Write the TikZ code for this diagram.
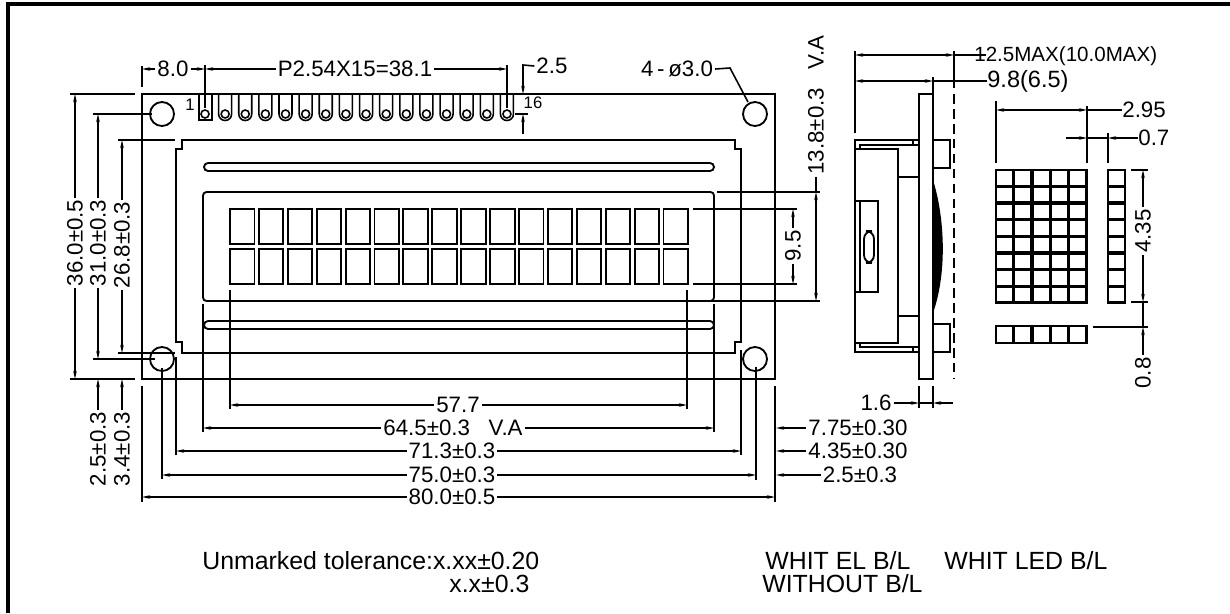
\documentclass[tikz,border=0pt]{standalone}
\usepackage{fontspec}
\setmainfont{Liberation Sans}
\usepackage{tikz}
\usetikzlibrary{
  arrows.meta,
  calc,
  positioning
}
\tikzset{
  part/.style={line width=1.05pt},
  partthin/.style={line width=0.9pt},
  cell/.style={line width=1.3pt},
  ext/.style={line width=0.9pt},
  extbold/.style={line width=1.3pt},
  arr/.style={-{Stealth[length=1.6mm,width=0.7mm]}, line width=0.9pt},
  arrboth/.style={{Stealth[length=1.6mm,width=0.7mm]}-{Stealth[length=1.6mm,width=0.7mm]}, line width=0.9pt},
  lbl/.style={inner sep=1pt, font=\fontsize{12.7}{14}\selectfont},
  lblrot/.style={lbl, rotate=90},
  pinNote/.style={inner sep=0pt, font=\fontsize{9.5}{10}\selectfont},
  noteText/.style={inner sep=0pt, anchor=base west, font=\fontsize{14.15}{16}\selectfont},
}

\begin{document}
\begin{tikzpicture}[x=0.02cm,y=-0.02cm]
\useasboundingbox (0,0) rectangle (1230,613);

% page frame, only top and left
\draw[line width=2pt] (8,613) -- (8,4) -- (1230,4);

% ---- front view ----
% board
\draw[part] (142,94) rectangle (775,379);
% mounting holes
\foreach \X/\Y in {162/114, 755/114, 162/359, 755/359}{
  \draw[part] (\X,\Y) circle (12);
}
% bezel with notches
\draw[part] (182,140) -- (735,140) -- (735,149) -- (741,149) -- (741,342) -- (735,342)
  -- (735,353) -- (182,353) -- (182,342) -- (176,342) -- (176,149) -- (182,149) -- cycle;
% slots
\foreach \Y in {163, 321}{
  \draw[part] (208,\Y) -- (710,\Y) arc[start angle=-90,end angle=90,radius=4]
    -- (208,\Y+8) arc[start angle=90,end angle=270,radius=4];
}
% viewing area
\draw[part, rounded corners=2pt] (203,192) rectangle (714,301);
% characters
\foreach \c in {0,...,15}{
  \foreach \Y in {209, 249}{
    \draw[part] ({230+28.9*\c},\Y) rectangle ({230+28.9*\c+24.5},\Y+35);
  }
}
% pins
\draw[partthin] (199,94) -- (199,120) -- (212,120) -- (212,94);
\draw[partthin] (205,114) circle (4);
\foreach \c in {1,...,15}{
  \draw[partthin] ({205+20.13*\c-6.5},94) -- ({205+20.13*\c-6.5},114)
    arc[start angle=180,end angle=0,radius=6.5] -- ({205+20.13*\c+6.5},94);
  \draw[partthin] ({205+20.13*\c},114) circle (4);
}
\node[pinNote] (pinFirst) at (190,105) {1};
\node[pinNote] (pinLast) at (533,103) {16};

% top dimensions
\node[lbl] (lblEight) at (173,69) {8.0};
\node[lbl] (lblPitch) at (355,69) {P2.54X15=38.1};
\node[lbl] (lblOffs) at (552,66) {2.5};
\node[lbl] (lblHoles) at (677,69) {4\,-\,ø3.0};
\draw[ext] (142,66) -- (142,87);
\draw[ext] (205,65) -- (205,108);
\draw[ext] (507,65) -- (507,108);
\draw[arr] (lblEight.west) -- (142,69);
\draw[arr] (lblEight.east) -- (205,69);
\draw[arr] (lblPitch.west) -- (205,69);
\draw[arr] (lblPitch.east) -- (507,69);
\draw[arr] (lblOffs.west) -- (523,65) -- (523,94);
\draw[ext] (515,114) -- (528,114);
\draw[arr] (523,134) -- (523,114);
\draw[ext] (lblHoles.east) -- (730,68) -- (748,102);

% left dimensions
\node[lblrot] (lblHa) at (75,243) {36.0±0.5};
\node[lblrot] (lblHb) at (98,243) {31.0±0.3};
\node[lblrot] (lblHc) at (122,245) {26.8±0.3};
\node[lblrot] (lblLa) at (98,449) {2.5±0.3};
\node[lblrot] (lblLb) at (122,449) {3.4±0.3};
\draw[ext] (70,94) -- (135,94);
\draw[extbold] (70,379) -- (135,379);
\draw[extbold] (93,114) -- (152,114);
\draw[extbold] (93,359) -- (155,359);
\draw[ext] (118,140) -- (175,140);
\draw[ext] (118,353) -- (175,353);
\draw[arr] (lblHa.east) -- (75,94);
\draw[arr] (lblHa.west) -- (75,379);
\draw[arr] (lblHb.east) -- (98,114);
\draw[arr] (lblHb.west) -- (98,359);
\draw[arr] (lblHc.east) -- (122,140);
\draw[arr] (lblHc.west) -- (122,353);
\draw[arr] (lblLa.east) -- (98,379);
\draw[arr] (lblLb.east) -- (122,379);

% bottom dimensions
\node[lbl] (lblWa) at (458,405) {57.7};
\node[lbl] (lblWb) at (453,428) {64.5±0.3\ \ \ V.A};
\node[lbl] (lblWc) at (452,451) {71.3±0.3};
\node[lbl] (lblWd) at (452,475) {75.0±0.3};
\node[lbl] (lblWe) at (452,497) {80.0±0.5};
\foreach \X/\Ya/\Yb in {230/290/409, 687/290/409, 203/304/432, 714/304/432, 176/357/455,
    741/350/455, 162/368/479, 756/367/480, 142/386/502, 775/480/502}{
  \draw[ext] (\X,\Ya) -- (\X,\Yb);
}
\draw[extbold] (775,386) -- (775,480);
\draw[arr] (lblWa.west) -- (230,405);
\draw[arr] (lblWa.east) -- (687,405);
\draw[arr] (lblWb.west) -- (203,428);
\draw[arr] (lblWb.east) -- (714,428);
\draw[arr] (lblWc.west) -- (176,451);
\draw[arr] (lblWc.east) -- (741,451);
\draw[arr] (lblWd.west) -- (162,475);
\draw[arr] (lblWd.east) -- (756,475);
\draw[arr] (lblWe.west) -- (142,497);
\draw[arr] (lblWe.east) -- (775,497);

% right end dimensions
\node[lbl] (lblRa) at (858,428) {7.75±0.30};
\node[lbl] (lblRb) at (858,451) {4.35±0.30};
\node[lbl] (lblRc) at (860,475) {2.5±0.3};
\draw[arr] (lblRa.west) -- (776,428);
\draw[arr] (lblRb.west) -- (776,451);
\draw[arr] (lblRc.west) -- (776,475);

% view area height
\node[lblrot] (lblVa) at (816,105) {13.8±0.3\ \ \ V.A};
\node[lblrot] (lblVb) at (793,246) {9.5};
\draw[ext] (717,192) -- (820,192);
\draw[ext] (693,301) -- (820,301);
\draw[ext] (693,209) -- (797,209);
\draw[ext] (693,284) -- (797,284);
\draw[ext] (lblVa.west) -- (816,192);
\draw[arrboth] (816,192) -- (816,301);
\draw[arr] (lblVb.east) -- (793,209);
\draw[arr] (lblVb.west) -- (793,284);

% ---- side view ----
\draw[part] (919,94) rectangle (933,379);
\draw[part] (919,140) -- (855,140) -- (855,352) -- (919,352);
\draw[part] (855,149) rectangle (898,343);
\draw[partthin] (860,149) -- (860,145) -- (919,145);
\draw[partthin] (860,343) -- (860,347) -- (919,347);
\draw[partthin] (913,140) -- (913,145);
\draw[partthin] (913,347) -- (913,352);
\draw[part] (898,177) -- (919,177);
\draw[part] (898,316) -- (919,316);
\draw[part] (855,201) -- (878,201) -- (878,292) -- (855,292);
\draw[part] (860,201) -- (860,292);
\draw[part, rounded corners=4.5pt] (864,231) rectangle (874,263);
% leds at the back
\draw[part] (933,140) -- (950,140) -- (950,168) -- (933,168);
\draw[part] (933,324) -- (950,324) -- (950,352) -- (933,352);
\fill (933,180) .. controls (944,215) and (948,270) .. (933,313) -- cycle;
\draw[part, dash pattern=on 5.5pt off 3pt] (954,94) -- (954,379);

% side dimensions
\node[lbl, anchor=west, inner sep=0pt, font=\fontsize{11.7}{14}\selectfont] (lblMax) at (974,56) {12.5MAX(10.0MAX)};
\node[lbl, anchor=west, inner sep=0pt, font=\fontsize{13.4}{14}\selectfont] (lblThick) at (987,81) {9.8(6.5)};
\node[lbl] (lblBoard) at (876,403) {1.6};
\draw[ext] (855,51) -- (855,133);
\draw[ext] (954,51) -- (954,88);
\draw[ext] (933,77) -- (933,94);
\draw[arrboth] (855,55) -- (954,55);
\draw[ext] (954,55) -- (986,55);
\draw[arrboth] (855,81) -- (933,81);
\draw[ext] (933,81) -- (lblThick.west);
\draw[ext] (919,386) -- (919,408);
\draw[ext] (933,386) -- (933,408);
\draw[arr] (lblBoard.east) -- (919,403);
\draw[ext] (919,403) -- (933,403);
\draw[arr] (953,403) -- (933,403);

% ---- dot matrix ----
\foreach \c in {0,...,4}{
  \foreach \r in {0,...,7}{
    \draw[cell] ({996+18.3*\c},{170+16.7*\r}) rectangle ++(17.3,15.7);
  }
  \draw[cell] ({996+18.3*\c},326) rectangle ++(17.3,17);
}
\foreach \r in {0,...,7}{
  \draw[cell] (1108,{170+16.7*\r}) rectangle ++(17.3,15.7);
}

% matrix dimensions
\node[lbl, anchor=west, inner sep=0pt] (lblCol) at (1122,110) {2.95};
\node[lbl, anchor=west, inner sep=0pt] (lblGap) at (1138,138) {0.7};
\node[lblrot] (lblRow) at (1143,231) {4.35};
\node[lblrot] (lblDrop) at (1143,373) {0.8};
\draw[ext] (996,101) -- (996,163);
\draw[extbold] (1087,106) -- (1087,163);
\draw[ext] (1108,133) -- (1108,163);
\draw[arrboth] (996,110) -- (1087,110);
\draw[ext] (1087,110) -- (lblCol.west);
\draw[arr] (1066,138) -- (1087,138);
\draw[ext] (1087,138) -- (1108,138);
\draw[arr] (lblGap.west) -- (1108,138);
\draw[ext] (1131,170) -- (1148,170);
\draw[ext] (1131,302) -- (1148,302);
\draw[extbold] (1093,327) -- (1148,327);
\draw[arr] (lblRow.east) -- (1143,170);
\draw[arr] (lblRow.west) -- (1143,302);
\draw[ext] (1143,302) -- (1143,327);
\draw[arr] (lblDrop.east) -- (1143,327);

% notes under the drawing
\node[noteText] (noteTolA) at (202,569) {Unmarked tolerance:x.xx±0.20};
\node[noteText] (noteTolB) at (449,592) {x.x±0.3};
\node[noteText] (noteEl) at (765,569) {WHIT EL B/L};
\node[noteText] (noteWo) at (762,592) {WITHOUT B/L};
\node[noteText] (noteLed) at (944,569) {WHIT LED B/L};

\end{tikzpicture}
\end{document}
